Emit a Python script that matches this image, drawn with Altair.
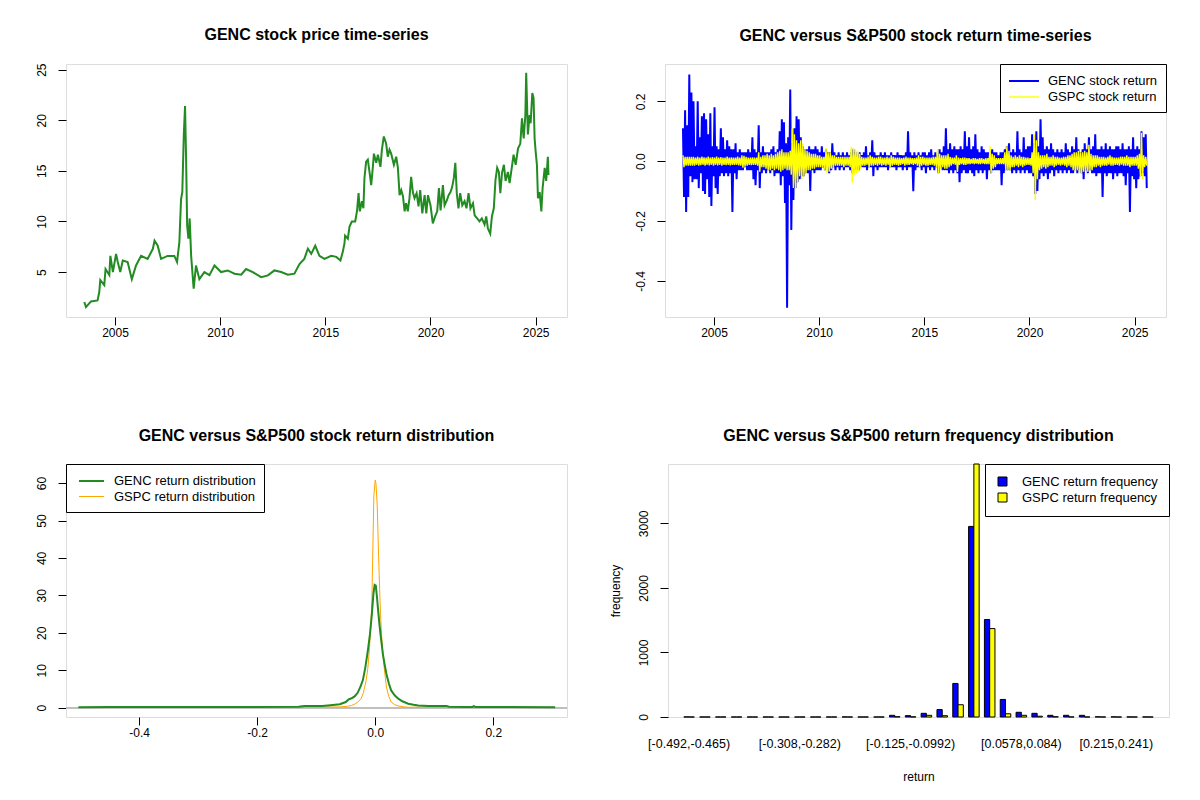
import altair as alt
import pandas as pd

FONT = "Liberation Sans"

# ---------------- Panel 1: GENC price ----------------
PRICE_T = [2003.54, 2003.62, 2003.86, 2004.17, 2004.25, 2004.3, 2004.49, 2004.55, 2004.73, 2004.78,
           2004.9, 2005.05, 2005.13, 2005.25, 2005.37, 2005.6, 2005.8, 2006.0, 2006.24, 2006.55,
           2006.8, 2006.88, 2007.03, 2007.19, 2007.5, 2007.82, 2007.95, 2008.06, 2008.14, 2008.2,
           2008.27, 2008.33, 2008.38, 2008.43, 2008.49, 2008.55, 2008.62, 2008.74, 2008.85, 2009.01,
           2009.25, 2009.49, 2009.73, 2010.04, 2010.36, 2010.68, 2011.0, 2011.23, 2011.55, 2011.95,
           2012.27, 2012.58, 2012.9, 2013.22, 2013.53, 2013.77, 2014.0, 2014.17, 2014.33, 2014.52,
           2014.72, 2014.96, 2015.28, 2015.52, 2015.72, 2015.83,
           2015.91, 2015.94, 2016.07, 2016.15, 2016.26, 2016.42, 2016.51, 2016.58, 2016.64, 2016.74,
           2016.81, 2016.86, 2016.94, 2017.02, 2017.1, 2017.18, 2017.26, 2017.31, 2017.42, 2017.5,
           2017.62, 2017.69, 2017.78, 2017.89, 2017.97, 2018.05, 2018.13, 2018.26, 2018.37, 2018.45,
           2018.53, 2018.61, 2018.69, 2018.77, 2018.84, 2018.92, 2019.0, 2019.08, 2019.16, 2019.24,
           2019.34, 2019.43, 2019.51, 2019.61, 2019.72, 2019.8, 2019.88, 2020.0, 2020.11, 2020.22,
           2020.32, 2020.4, 2020.48, 2020.59, 2020.67, 2020.78, 2020.86, 2020.95, 2021.03, 2021.11,
           2021.18, 2021.25, 2021.33, 2021.41, 2021.51, 2021.62, 2021.71, 2021.81, 2021.9, 2022.02,
           2022.1, 2022.22, 2022.33, 2022.44, 2022.57, 2022.65, 2022.73, 2022.84, 2022.92, 2023.01,
           2023.09, 2023.17, 2023.25, 2023.32, 2023.4, 2023.49, 2023.57, 2023.68, 2023.76, 2023.87,
           2023.95, 2024.05, 2024.16, 2024.27, 2024.35, 2024.43, 2024.51, 2024.55, 2024.63, 2024.71,
           2024.76, 2024.84, 2024.9, 2024.95, 2025.0, 2025.06, 2025.11, 2025.19, 2025.27, 2025.33,
           2025.43, 2025.5, 2025.58, 2025.61]
PRICE_V = [2.04, 1.55, 2.1, 2.2, 3.0, 4.2, 3.7, 5.3, 4.7, 6.6,
           5.0, 6.8, 6.0, 5.0, 6.15, 6.0, 4.3, 5.65, 6.6, 6.3,
           7.3, 8.1, 7.6, 6.3, 6.6, 6.6, 6.0, 7.96, 12.2, 12.9,
           18.5, 21.4, 16.2, 9.6, 8.3, 10.3, 6.6, 3.35, 5.65, 4.3,
           5.0, 4.7, 5.65, 5.0, 5.16, 4.84, 4.74, 5.3, 5.0, 4.5,
           4.67, 5.16, 5.0, 4.74, 4.84, 5.8, 6.3, 7.3, 6.8, 7.6,
           6.6, 6.3, 6.6, 6.5, 6.15, 7.0,
           7.84, 8.6, 8.3, 9.5, 10.0, 10.0, 11.1, 12.8, 11.0, 12.0,
           11.3, 14.3, 15.9, 16.1, 14.9, 13.6, 15.4, 16.7, 15.8, 16.6,
           15.4, 17.1, 18.4, 17.7, 16.4, 17.1, 16.7, 15.6, 16.4, 15.3,
           12.6, 13.1, 12.5, 11.0, 11.8, 11.0, 12.3, 14.4, 12.9, 12.3,
           12.8, 11.5, 13.1, 10.8, 12.6, 10.8, 12.6, 11.6, 9.8, 10.5,
           11.0, 13.3, 11.1, 13.6, 11.6, 12.1, 12.6, 12.9, 13.4, 14.3,
           15.8, 12.8, 11.3, 12.8, 11.6, 12.0, 11.3, 12.8, 11.3, 11.8,
           10.6, 10.3, 10.0, 10.3, 9.7, 10.5, 9.3, 8.8, 10.5, 11.3,
           14.1, 15.3, 14.9, 12.8, 14.8, 15.6, 14.0, 14.9, 13.8, 15.4,
           16.6, 15.6, 17.2, 17.7, 20.2, 18.2, 20.5, 24.7, 18.6, 20.5,
           19.7, 22.7, 22.2, 18.2, 16.9, 15.6, 12.3, 12.9, 11.0, 13.3,
           15.3, 14.0, 16.4, 14.6]

# ---------------- Panel 2: returns (high / low per 0.1-year step) ----------------
RET_START = 2003.55
RET_STEP = 0.1
GENC_HI = [
    0.11, 0.17, 0.12, 0.29, 0.23,
    0.20, 0.05, 0.20, 0.08, 0.15, 0.16, 0.14, 0.09, 0.16, 0.05,
    0.18, 0.05, 0.04, 0.11, 0.08, 0.04, 0.07, 0.05, 0.04, 0.04,
    0.06, 0.03, 0.04, 0.03, 0.03, 0.03, 0.04, 0.03, 0.08, 0.04,
    0.03, 0.12, 0.03, 0.05, 0.03, 0.03, 0.03, 0.04, 0.05, 0.03,
    0.04, 0.10, 0.14, 0.13, 0.06, 0.08, 0.24, 0.06, 0.11, 0.15,
    0.14, 0.08, 0.05, 0.04, 0.04, 0.05, 0.04, 0.04, 0.05, 0.04,
    0.03, 0.05, 0.03, 0.04, 0.03, 0.03, 0.06, 0.03, 0.02, 0.03,
    0.02, 0.03, 0.02, 0.03, 0.02, 0.03, 0.04, 0.03, 0.02, 0.03,
    0.02, 0.03, 0.05, 0.02, 0.03, 0.07, 0.03, 0.02, 0.02, 0.03,
    0.02, 0.03, 0.02, 0.02, 0.03, 0.02, 0.02, 0.03, 0.02, 0.02,
    0.02, 0.03, 0.10, 0.03, 0.02, 0.03, 0.02, 0.03, 0.02, 0.03,
    0.03, 0.02, 0.03, 0.04, 0.02, 0.03, 0.02, 0.04, 0.03, 0.05,
    0.11, 0.04, 0.06, 0.04, 0.05, 0.04, 0.04, 0.05, 0.04, 0.10,
    0.05, 0.08, 0.04, 0.05, 0.09, 0.04, 0.03, 0.05, 0.04, 0.03,
    0.03, 0.03, 0.04, 0.03, 0.03, 0.02, 0.03, 0.03, 0.04, 0.05,
    0.06, 0.03, 0.04, 0.03, 0.10, 0.04, 0.03, 0.08, 0.04, 0.05,
    0.05, 0.09, 0.06, 0.10, 0.05, 0.14, 0.08, 0.04, 0.05, 0.04,
    0.06, 0.04, 0.03, 0.04, 0.03, 0.04, 0.03, 0.06, 0.04, 0.03,
    0.05, 0.04, 0.08, 0.04, 0.03, 0.04, 0.06, 0.04, 0.08, 0.04,
    0.05, 0.09, 0.04, 0.04, 0.05, 0.04, 0.06, 0.04, 0.05, 0.04,
    0.04, 0.05, 0.05, 0.04, 0.06, 0.04, 0.04, 0.05, 0.04, 0.08,
    0.04, 0.05, 0.04, 0.10, 0.08, 0.09,
]
GENC_LO = [
    -0.12, -0.17, -0.12, -0.05, -0.07,
    -0.06, -0.06, -0.09, -0.04, -0.10, -0.11, -0.06, -0.12, -0.15, -0.05,
    -0.09, -0.11, -0.05, -0.04, -0.05, -0.04, -0.05, -0.04, -0.17, -0.04,
    -0.06, -0.03, -0.03, -0.03, -0.02, -0.03, -0.03, -0.03, -0.06, -0.08,
    -0.03, -0.09, -0.04, -0.03, -0.04, -0.03, -0.04, -0.03, -0.05, -0.04,
    -0.04, -0.08, -0.05, -0.14, -0.49, -0.08, -0.23, -0.13, -0.09, -0.07,
    -0.06, -0.05, -0.05, -0.04, -0.04, -0.10, -0.03, -0.04, -0.03, -0.03,
    -0.03, -0.02, -0.03, -0.02, -0.04, -0.03, -0.02, -0.03, -0.02, -0.03,
    -0.02, -0.03, -0.02, -0.02, -0.03, -0.04, -0.03, -0.02, -0.03, -0.02,
    -0.02, -0.02, -0.03, -0.02, -0.02, -0.05, -0.02, -0.03, -0.02, -0.02,
    -0.02, -0.02, -0.03, -0.02, -0.02, -0.02, -0.03, -0.02, -0.02, -0.03,
    -0.02, -0.03, -0.02, -0.02, -0.10, -0.03, -0.02, -0.02, -0.03, -0.02,
    -0.04, -0.02, -0.03, -0.02, -0.03, -0.02, -0.04, -0.02, -0.03, -0.03,
    -0.03, -0.04, -0.03, -0.04, -0.03, -0.04, -0.07, -0.04, -0.03, -0.04,
    -0.04, -0.03, -0.04, -0.05, -0.03, -0.04, -0.03, -0.04, -0.03, -0.06,
    -0.03, -0.04, -0.03, -0.03, -0.03, -0.03, -0.08, -0.04, -0.03, -0.03,
    -0.03, -0.04, -0.03, -0.04, -0.03, -0.04, -0.03, -0.04, -0.03, -0.04,
    -0.04, -0.05, -0.11, -0.10, -0.06, -0.04, -0.05, -0.04, -0.06, -0.04,
    -0.03, -0.05, -0.03, -0.04, -0.03, -0.04, -0.03, -0.04, -0.03, -0.04,
    -0.04, -0.03, -0.04, -0.03, -0.04, -0.06, -0.03, -0.04, -0.03, -0.04,
    -0.04, -0.05, -0.04, -0.04, -0.12, -0.04, -0.05, -0.04, -0.04, -0.06,
    -0.04, -0.05, -0.04, -0.04, -0.05, -0.08, -0.04, -0.17, -0.05, -0.06,
    -0.09, -0.06, -0.05, -0.04, -0.05, -0.09,
]
GSPC_HI = [
    0.02, 0.015, 0.015, 0.015, 0.015,
    0.015, 0.012, 0.015, 0.012, 0.015, 0.013, 0.012, 0.015, 0.012, 0.014,
    0.012, 0.015, 0.012, 0.014, 0.012, 0.012, 0.015, 0.012, 0.013, 0.012,
    0.012, 0.015, 0.012, 0.02, 0.018, 0.015, 0.012, 0.012, 0.013, 0.012,
    0.012, 0.03, 0.015, 0.02, 0.02, 0.025, 0.02, 0.025, 0.02, 0.025,
    0.03, 0.035, 0.04, 0.03, 0.03, 0.03, 0.035, 0.11, 0.09, 0.07,
    0.06, 0.07, 0.06, 0.04, 0.035, 0.03, 0.025, 0.025, 0.025, 0.02,
    0.02, 0.015, 0.015, 0.045, 0.03, 0.03, 0.02, 0.02, 0.015, 0.015,
    0.015, 0.015, 0.015, 0.015, 0.015, 0.048, 0.045, 0.04, 0.035, 0.025,
    0.015, 0.012, 0.012, 0.015, 0.02, 0.015, 0.012, 0.012, 0.015, 0.015,
    0.012, 0.012, 0.015, 0.012, 0.02, 0.015, 0.012, 0.012, 0.012, 0.01,
    0.012, 0.015, 0.012, 0.012, 0.01, 0.01, 0.012, 0.02, 0.015, 0.015,
    0.012, 0.012, 0.012, 0.012, 0.015, 0.015, 0.04, 0.025, 0.02, 0.02,
    0.02, 0.025, 0.015, 0.012, 0.012, 0.02, 0.012, 0.01, 0.012, 0.012,
    0.01, 0.01, 0.008, 0.01, 0.01, 0.008, 0.01, 0.01, 0.008, 0.01,
    0.01, 0.05, 0.025, 0.02, 0.01, 0.01, 0.01, 0.01, 0.03, 0.05,
    0.035, 0.02, 0.015, 0.02, 0.015, 0.02, 0.015, 0.015, 0.012, 0.012,
    0.01, 0.03, 0.09, 0.07, 0.03, 0.02, 0.02, 0.02, 0.025, 0.015,
    0.015, 0.02, 0.015, 0.015, 0.012, 0.012, 0.015, 0.015, 0.02, 0.02,
    0.025, 0.03, 0.03, 0.035, 0.03, 0.03, 0.035, 0.03, 0.055, 0.025,
    0.02, 0.02, 0.02, 0.015, 0.015, 0.015, 0.012, 0.015, 0.02, 0.015,
    0.012, 0.012, 0.012, 0.015, 0.015, 0.015, 0.02, 0.015, 0.015, 0.015,
    0.015, 0.02, 0.025, 0.095, 0.02, 0.015,
]
GSPC_LO = [
    -0.02, -0.015, -0.015, -0.015, -0.015,
    -0.015, -0.012, -0.015, -0.013, -0.012, -0.015, -0.012, -0.014, -0.012, -0.015,
    -0.012, -0.014, -0.012, -0.015, -0.012, -0.013, -0.012, -0.014, -0.012, -0.012,
    -0.012, -0.014, -0.015, -0.022, -0.018, -0.015, -0.012, -0.013, -0.012, -0.012,
    -0.015, -0.035, -0.02, -0.02, -0.025, -0.03, -0.03, -0.025, -0.03, -0.025,
    -0.03, -0.035, -0.03, -0.025, -0.03, -0.03, -0.045, -0.09, -0.095, -0.07,
    -0.05, -0.06, -0.05, -0.04, -0.03, -0.03, -0.025, -0.025, -0.02, -0.02,
    -0.02, -0.02, -0.03, -0.04, -0.035, -0.025, -0.02, -0.015, -0.015, -0.015,
    -0.015, -0.02, -0.015, -0.015, -0.02, -0.071, -0.045, -0.04, -0.035, -0.025,
    -0.015, -0.015, -0.012, -0.02, -0.015, -0.015, -0.012, -0.015, -0.012, -0.015,
    -0.012, -0.015, -0.012, -0.02, -0.015, -0.012, -0.012, -0.015, -0.012, -0.01,
    -0.015, -0.012, -0.012, -0.01, -0.012, -0.01, -0.015, -0.02, -0.015, -0.012,
    -0.015, -0.015, -0.012, -0.012, -0.015, -0.02, -0.04, -0.025, -0.02, -0.025,
    -0.025, -0.02, -0.015, -0.01, -0.012, -0.036, -0.012, -0.01, -0.012, -0.012,
    -0.01, -0.01, -0.008, -0.01, -0.008, -0.01, -0.01, -0.008, -0.01, -0.01,
    -0.01, -0.04, -0.025, -0.02, -0.01, -0.01, -0.01, -0.01, -0.03, -0.03,
    -0.03, -0.02, -0.02, -0.015, -0.02, -0.015, -0.02, -0.015, -0.012, -0.012,
    -0.015, -0.04, -0.13, -0.06, -0.03, -0.025, -0.02, -0.025, -0.02, -0.015,
    -0.015, -0.02, -0.015, -0.012, -0.015, -0.012, -0.015, -0.02, -0.015, -0.02,
    -0.03, -0.035, -0.03, -0.04, -0.04, -0.035, -0.03, -0.035, -0.03, -0.03,
    -0.02, -0.02, -0.015, -0.02, -0.015, -0.015, -0.015, -0.012, -0.015, -0.015,
    -0.012, -0.012, -0.015, -0.012, -0.015, -0.015, -0.015, -0.02, -0.015, -0.015,
    -0.015, -0.025, -0.05, -0.06, -0.02, -0.015,
]

# ---------------- Panel 3: densities ----------------
DENS_GENC_X = [-0.503, -0.45, -0.3, -0.2, -0.13, -0.12, -0.09, -0.08, -0.06, -0.05, -0.045, -0.04,
               -0.035, -0.03, -0.025, -0.021, -0.017, -0.0125, -0.009, -0.0057, -0.003, -0.001,
               0.001, 0.003, 0.0046, 0.007, 0.009, 0.013, 0.016, 0.019, 0.023, 0.027, 0.033, 0.039,
               0.046, 0.056, 0.065, 0.073, 0.09, 0.121, 0.125, 0.15, 0.165, 0.167, 0.17, 0.2, 0.305]
DENS_GENC_Y = [0.1, 0.2, 0.2, 0.2, 0.25, 0.45, 0.45, 0.6, 0.9, 1.5, 2.2, 2.5,
               3.0, 3.9, 5.6, 7.3, 10.5, 15.2, 19.5, 24.9, 30.5, 32.8,
               32.6, 29.5, 26.6, 22.5, 19.6, 14.3, 11.5, 9.0, 6.5, 4.6, 3.3, 2.4,
               1.7, 1.06, 0.8, 0.6, 0.45, 0.44, 0.25, 0.2, 0.2, 0.4, 0.2, 0.2, 0.1]
DENS_GSPC_X = [-0.13, -0.1, -0.06, -0.047, -0.04, -0.035, -0.03, -0.024, -0.02, -0.0154, -0.0125,
               -0.0097, -0.0075, -0.0057, -0.004, -0.0023, 0.0, 0.0012, 0.0034, 0.0057, 0.0075,
               0.009, 0.011, 0.013, 0.016, 0.019, 0.023, 0.027, 0.033, 0.039, 0.05, 0.056, 0.08,
               0.1, 0.12]
DENS_GSPC_Y = [0.1, 0.15, 0.2, 0.35, 0.6, 0.9, 1.4, 2.4, 4.0, 7.2, 10.5,
               16.0, 21.5, 28.4, 42.5, 56.6, 60.8, 60.0, 54.0, 40.7, 31.5,
               24.9, 19.0, 14.3, 9.5, 5.5, 3.0, 1.5, 0.8, 0.44, 0.2, 0.1, 0.15,
               0.1, 0.05]

# ---------------- Panel 4: frequency bars ----------------
BIN_LABELS = ["[-0.492,-0.465)", "[-0.465,-0.439)", "[-0.439,-0.413)", "[-0.413,-0.387)",
              "[-0.387,-0.361)", "[-0.361,-0.335)", "[-0.335,-0.308)", "[-0.308,-0.282)",
              "[-0.282,-0.256)", "[-0.256,-0.23)", "[-0.23,-0.204)", "[-0.204,-0.178)",
              "[-0.178,-0.151)", "[-0.151,-0.125)", "[-0.125,-0.0992)", "[-0.0992,-0.073)",
              "[-0.073,-0.0468)", "[-0.0468,-0.0206)", "[-0.0206,0.0056)", "[0.0056,0.0318)",
              "[0.0318,0.0578)", "[0.0578,0.084)", "[0.084,0.11)", "[0.11,0.136)",
              "[0.136,0.163)", "[0.163,0.189)", "[0.189,0.215)", "[0.215,0.241)",
              "[0.241,0.267)", "[0.267,0.294]"]
SHOWN_LABELS = ["[-0.492,-0.465)", "[-0.308,-0.282)", "[-0.125,-0.0992)", "[0.0578,0.084)", "[0.215,0.241)"]
GENC_FREQ = [1, 0, 0, 0, 0, 0, 0, 0, 0, 0, 1, 0, 0, 26, 21, 57, 115, 520, 2953, 1510,
             272, 73, 57, 26, 26, 26, 3, 2, 1, 1]
GSPC_FREQ = [0, 0, 0, 0, 0, 0, 0, 0, 0, 0, 0, 0, 0, 4, 2, 26, 20, 190, 3920, 1370,
             50, 26, 12, 4, 1, 0, 0, 0, 0, 0]

BLUE, YELLOW, GREEN, ORANGE, GRAY = "#0000FF", "#FFFF00", "#228B22", "#FFA500", "#BEBEBE"
W, H = 501, 253

# ---------- data frames ----------
price_df = pd.DataFrame({"t": PRICE_T, "v": PRICE_V})

G_RET, S_RET = "GENC stock return", "GSPC stock return"
rows = []
for name, hi, lo in [(G_RET, GENC_HI, GENC_LO), (S_RET, GSPC_HI, GSPC_LO)]:
    for k, (h, l) in enumerate(zip(hi, lo)):
        t = RET_START + RET_STEP * k
        rows.append({"t": t - 0.025, "r": h, "series": name})
        rows.append({"t": t + 0.025, "r": l, "series": name})
ret_df = pd.DataFrame(rows)

G_D, S_D = "GENC return distribution", "GSPC return distribution"
dens_df = pd.concat([
    pd.DataFrame({"x": DENS_GENC_X, "y": DENS_GENC_Y, "series": G_D}),
    pd.DataFrame({"x": DENS_GSPC_X, "y": DENS_GSPC_Y, "series": S_D}),
])

G_F, S_F = "GENC return frequency", "GSPC return frequency"
freq_df = pd.concat([
    pd.DataFrame({"bin": BIN_LABELS, "n": GENC_FREQ, "series": G_F}),
    pd.DataFrame({"bin": BIN_LABELS, "n": GSPC_FREQ, "series": S_F}),
])


# ---------- helpers ----------
def yaxis(values, label_expr=None, **kw):
    d = dict(values=values, domain=False, grid=False, tickColor="black", tickSize=8, tickWidth=1,
             labelAngle=270, labelAlign="center", labelBaseline="bottom", labelPadding=10,
             labelFont=FONT, labelFontSize=12, labelColor="black", minExtent=30, maxExtent=30,
             labelOverlap=False)
    if label_expr:
        d["labelExpr"] = label_expr
    d.update(kw)
    return alt.Axis(**d)


def xaxis(values, label_expr=None, **kw):
    d = dict(values=values, domain=False, grid=False, tickColor="black", tickSize=8, tickWidth=1,
             labelAngle=0, labelPadding=2, labelFont=FONT, labelFontSize=12, labelColor="black",
             labelOverlap=False)
    if label_expr:
        d["labelExpr"] = label_expr
    d.update(kw)
    return alt.Axis(**d)


def ttl(text):
    return alt.TitleParams(text=text, font=FONT, fontSize=16, fontWeight="bold", color="black",
                           anchor="middle", frame="group", baseline="alphabetic", offset=7)


def line_legend(orient, path):
    return alt.Legend(orient=orient, offset=0, title=None, strokeColor="black", fillColor="white",
                      padding=8, labelFont=FONT, labelFontSize=13, labelColor="black",
                      symbolType=path, symbolSize=256, labelOffset=22, rowPadding=0,
                      cornerRadius=0)


DEC = "datum.value < 0 ? '-' + format(-datum.value, '.1f') : format(datum.value, '.1f')"

# ---------- Panel 1 ----------
p1 = alt.Chart(price_df).mark_line(color=GREEN, strokeWidth=2).encode(
    x=alt.X("t:Q", scale=alt.Scale(domain=[2002.67, 2026.49], nice=False, zero=False),
            axis=xaxis([2005, 2010, 2015, 2020, 2025], format="d"), title=None),
    y=alt.Y("v:Q", scale=alt.Scale(domain=[0.56, 25.56], nice=False, zero=False),
            axis=yaxis([5, 10, 15, 20, 25]), title=None),
).properties(width=W, height=H, title=ttl("GENC stock price time-series"))

# ---------- Panel 2 ----------
RET_PATH = "M-1,0L2.75,0"
ret_color = alt.Color("series:N", scale=alt.Scale(domain=[G_RET, S_RET], range=[BLUE, YELLOW]),
                      legend=line_legend("top-right", RET_PATH))
ret_width = alt.StrokeWidth("series:N", scale=alt.Scale(domain=[G_RET, S_RET], range=[2, 1.4]),
                            legend=line_legend("top-right", RET_PATH))
ret_x = alt.X("t:Q", scale=alt.Scale(domain=[2002.67, 2026.49], nice=False, zero=False),
              axis=xaxis([2005, 2010, 2015, 2020, 2025], format="d"), title=None)
ret_y = alt.Y("r:Q", scale=alt.Scale(domain=[-0.521, 0.325], nice=False, zero=False),
              axis=yaxis([-0.4, -0.2, 0.0, 0.2], DEC), title=None)
ret_base = alt.Chart(ret_df).mark_line(strokeJoin="miter").encode(
    x=ret_x, y=ret_y, color=ret_color, strokeWidth=ret_width)
p2 = alt.layer(
    ret_base.transform_filter(alt.datum.series == G_RET),
    ret_base.transform_filter(alt.datum.series == S_RET),
).properties(width=W, height=H, title=ttl("GENC versus S&P500 stock return time-series"))

# ---------- Panel 3 ----------
DENS_PATH = "M-0.5,0L2.625,0"
d_color = alt.Color("series:N", scale=alt.Scale(domain=[G_D, S_D], range=[GREEN, ORANGE]),
                    legend=line_legend("top-left", DENS_PATH))
d_width = alt.StrokeWidth("series:N", scale=alt.Scale(domain=[G_D, S_D], range=[2, 1]),
                          legend=line_legend("top-left", DENS_PATH))
d_x = alt.X("x:Q", scale=alt.Scale(domain=[-0.524, 0.325], nice=False, zero=False),
            axis=xaxis([-0.4, -0.2, 0.0, 0.2], DEC), title=None)
d_y = alt.Y("y:Q", scale=alt.Scale(domain=[-2.5, 65.1], nice=False, zero=False),
            axis=yaxis([0, 10, 20, 30, 40, 50, 60]), title=None)
zero_rule = alt.Chart(dens_df).mark_rule(color=GRAY, strokeWidth=1).encode(y=alt.datum(0))
d_base = alt.Chart(dens_df).mark_line().encode(x=d_x, y=d_y, color=d_color, strokeWidth=d_width)
p3 = alt.layer(
    zero_rule,
    d_base.transform_filter(alt.datum.series == S_D),
    d_base.transform_filter(alt.datum.series == G_D),
).properties(width=W, height=H, title=ttl("GENC versus S&P500 stock return distribution"))

# ---------- Panel 4 ----------
shown = "[" + ",".join("'" + s + "'" for s in SHOWN_LABELS) + "]"
p4 = alt.Chart(freq_df).mark_bar(stroke="black", strokeWidth=1).encode(
    x=alt.X("bin:N", sort=BIN_LABELS,
            scale=alt.Scale(paddingInner=1 / 3, paddingOuter=1),
            axis=alt.Axis(domain=False, ticks=False, grid=False, labelAngle=0, labelPadding=20,
                          labelFont=FONT, labelFontSize=12.5, labelColor="black", labelOverlap=False,
                          labelExpr="indexof(" + shown + ", datum.value) >= 0 ? datum.value : ''",
                          title="return", titleFont=FONT, titleFontSize=12, titleFontWeight="normal",
                          titleColor="black", titlePadding=22)),
    xOffset=alt.XOffset("series:N", sort=[G_F, S_F], scale=alt.Scale(paddingInner=0, paddingOuter=0)),
    y=alt.Y("n:Q", scale=alt.Scale(domain=[0, 3920], nice=False, zero=True),
            axis=yaxis([0, 1000, 2000, 3000], format="d", title="frequency", titleFont=FONT,
                       titleFontSize=12, titleFontWeight="normal", titleColor="black",
                       titlePadding=16)),
    color=alt.Color("series:N", scale=alt.Scale(domain=[G_F, S_F], range=[BLUE, YELLOW]),
                    legend=alt.Legend(orient="top-right", offset=0, title=None, strokeColor="black",
                                      fillColor="white", padding=11, labelFont=FONT, labelFontSize=13,
                                      labelColor="black", symbolType="square", symbolSize=81,
                                      symbolStrokeColor="black", symbolStrokeWidth=1,
                                      labelOffset=13, rowPadding=2, cornerRadius=0)),
).properties(width=W, height=H, title=ttl("GENC versus S&P500 return frequency distribution"))

row1 = alt.hconcat(p1, p2, spacing=65).resolve_scale(color="independent", strokeWidth="independent")
row2 = alt.hconcat(p3, p4, spacing=40).resolve_scale(color="independent", strokeWidth="independent")
chart = alt.vconcat(row1, row2, spacing=88).resolve_scale(
    color="independent", strokeWidth="independent"
).properties(
    padding={"left": 26, "top": 18, "right": 5, "bottom": 5}
).configure_view(stroke="black", strokeWidth=1).configure(background="white")

chart.save("out.html", embed_options={"renderer": "svg", "actions": False})
